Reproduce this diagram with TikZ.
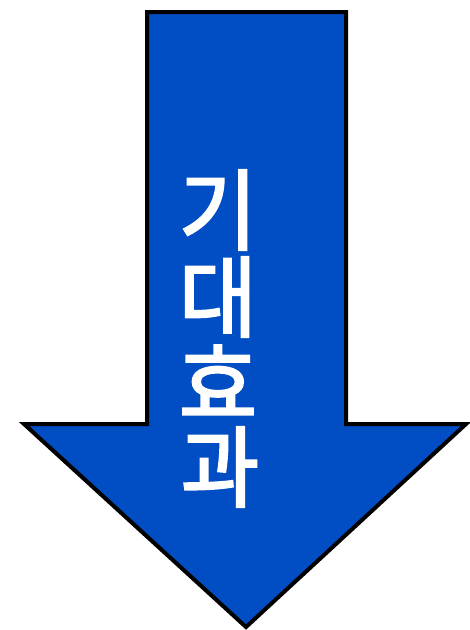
\documentclass[tikz,border=0pt]{standalone}
\usepackage{fontspec}
\usepackage{graphicx}
\newfontfamily\kr[FakeBold=2.5]{Noto Sans CJK KR}
\definecolor{arrowblue}{HTML}{004DC4}
\newcommand{\tallchar}[1]{\scalebox{1}[1.04]{#1}}
\begin{document}
\begin{tikzpicture}[x=1pt,y=-1pt,
  arrowshape/.style={fill=arrowblue,draw=black,line width=4pt,line join=miter},
  label/.style={text=white,font=\kr\fontsize{85}{85}\selectfont,inner sep=0pt}]
\useasboundingbox (0,0) rectangle (470,630);
\draw[arrowshape] (147,12) -- (346,12) -- (346,424) -- (466,424) -- (246,627) -- (24,424) -- (147,424) -- cycle;
\node[label] (c1) at (218,210) {\tallchar{기}};
\node[label] (c2) at (218,297) {\tallchar{대}};
\node[label] (c3) at (218,381) {\tallchar{효}};
\node[label] (c4) at (220,467) {\tallchar{과}};
\end{tikzpicture}
\end{document}
